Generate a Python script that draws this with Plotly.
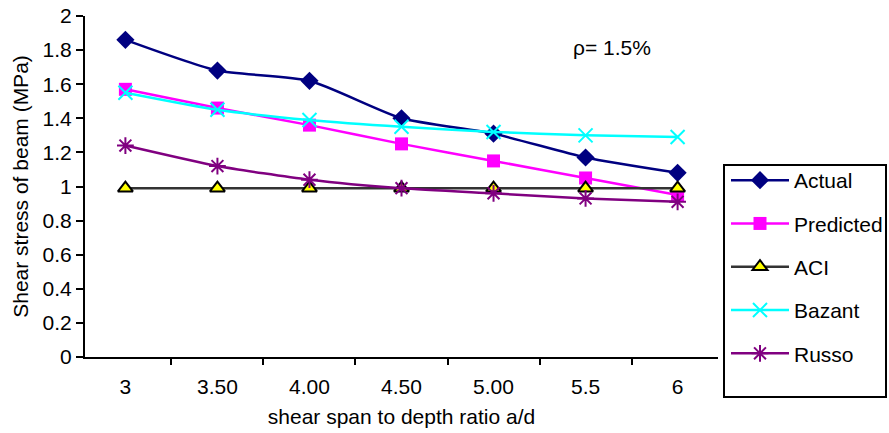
import plotly.graph_objects as go

categories = ["3", "3.50", "4.00", "4.50", "5.00", "5.5", "6"]
actual = [1.86, 1.68, 1.62, 1.40, 1.31, 1.17, 1.08]
predicted = [1.57, 1.46, 1.36, 1.25, 1.15, 1.05, 0.95]
aci = [0.99, 0.99, 0.99, 0.99, 0.99, 0.99, 0.99]
bazant = [1.55, 1.45, 1.39, 1.35, 1.32, 1.30, 1.29]
russo = [1.24, 1.12, 1.04, 0.99, 0.96, 0.93, 0.91]

FONT = "Liberation Sans, Arial, sans-serif"
W, H = 889, 433
ML, MR, MT, MB = 85, 171, 16, 76
PW, PH = W - ML - MR, H - MT - MB

def px_x(p):
    return (p - ML) / PW

def px_y(p):
    return (H - MB - p) / PH

fig = go.Figure()
series = [
    ("Actual", actual, "#000080", dict(symbol="diamond", size=14, color="#000080")),
    ("Predicted", predicted, "#FF00FF", dict(symbol="square", size=13, color="#FF00FF")),
    ("ACI", aci, "#333333", dict(symbol="triangle-up", size=13, color="#FFFF00",
                                  line=dict(color="#000000", width=2))),
    ("Bazant", bazant, "#00FFFF", dict(symbol="x-thin-open", size=14, color="#00FFFF",
                                        line=dict(color="#00FFFF", width=2))),
    ("Russo", russo, "#800080", dict(symbol="asterisk-open", size=14, color="#800080",
                                      line=dict(color="#800080", width=2))),
]
for i, (name, vals, col, mk) in enumerate(series):
    fig.add_trace(go.Scatter(
        x=categories, y=vals, name=name, mode="lines+markers",
        line=dict(color=col, width=2.5, shape="spline", smoothing=0.6),
        marker=mk, legendgroup=f"g{i}",
    ))

fig.update_layout(
    width=W, height=H,
    margin=dict(l=ML, r=MR, t=MT, b=MB, autoexpand=False),
    paper_bgcolor="white", plot_bgcolor="white",
    font=dict(family=FONT, size=21, color="black"),
    showlegend=True,
    legend=dict(x=px_x(726), y=px_y(160), xanchor="left", yanchor="top",
                borderwidth=0, bgcolor="rgba(0,0,0,0)",
                font=dict(size=21), tracegroupgap=13, itemwidth=58),
    shapes=[dict(type="rect", xref="paper", yref="paper",
                 x0=px_x(724), x1=px_x(886), y0=px_y(165), y1=px_y(397),
                 line=dict(color="black", width=2), fillcolor="rgba(0,0,0,0)",
                 layer="below")],
    annotations=[dict(text="ρ= 1.5%", x=px_x(612), y=px_y(47), xref="paper", yref="paper",
                      xanchor="center", yanchor="middle",
                      showarrow=False, font=dict(size=21))],
)
fig.update_xaxes(
    type="category", showline=True, linecolor="black", linewidth=2,
    ticks="outside", ticklen=6, tickwidth=2, tickcolor="black", tickson="boundaries",
    showgrid=False, zeroline=False, automargin=False, ticklabelstandoff=10,
    title=dict(text="shear span to depth ratio a/d", font=dict(size=21), standoff=12),
)
fig.update_yaxes(
    range=[0, 2], dtick=0.2, tick0=0, showline=True, linecolor="black", linewidth=2,
    ticks="outside", ticklen=7, tickwidth=2, tickcolor="black",
    showgrid=False, zeroline=False, automargin=False,
    title=dict(text="Shear stress of beam (MPa)", font=dict(size=21), standoff=8),
)
fig.write_html("out.html")
